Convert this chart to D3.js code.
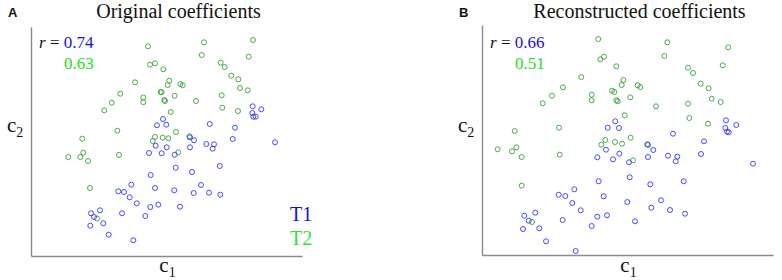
<!DOCTYPE html>
<html><head><meta charset="utf-8">
<script src="https://cdn.jsdelivr.net/npm/d3@7"></script>
<style>
html,body{margin:0;padding:0;background:#fff;}
svg{display:block;}
.serif{font-family:"Liberation Serif","Times New Roman",serif;}
.sans{font-family:"Liberation Sans",Arial,sans-serif;}
</style></head>
<body>
<svg id="chart" width="782" height="280"></svg>
<script>
// ---- data (c1, c2 in arbitrary units) ----
const panelTitles = ["Original coefficients", "Reconstructed coefficients"];
const panelLetters = ["A", "B"];
const rT1 = ["0.74", "0.66"];
const rT2 = ["0.63", "0.51"];
const seriesNames = ["T1", "T2"];

const origT1 = [[100.3,71.3],[87.3,64.7],[93,64],[98.7,58.7],[105.7,52.7],[60,42.7],[69,45.7],[91,42.7],[63,39],[114.3,40],
[72.3,32.7],[59.3,30.3],[77.7,21.3],[102.3,15.7],[132,137],[126,130.7],[135.3,131.3],[178.7,132],[159,118.7],[163,115.7],
[124.7,110.3],[135.7,108.7],[159,108.7],[175.3,112],[183,111.7],[181.7,107.3],[118,103],[130.7,102.7],[143.7,101.3],[144.7,88.3],
[161,84],[188.7,90],[119.7,81],[170,71],[124,68],[143.3,65.7],[162.7,63],[178,63.3],[189.3,61.3],[127.3,51.3],
[119.3,49],[149,49.3],[221.7,149.7],[230.3,146.7],[221.3,143],[222.3,139.3],[224.7,139.3],[204,128.3],[201.7,117],[244,113.7]];

const origT2 = [[104,173.7],[89.3,162.3],[80.7,153.3],[73.3,145.7],[112.3,158.5],[112.3,153.8],[86.3,125.3],[51.3,117.3],[37.3,99],[52.3,103.3],
[49.3,99],[57,95],[88,101],[59,68],[66,37.5],[117,209.7],[173,213.7],[170.7,201],[119,191.3],[124,192.7],
[132.3,186.7],[138.3,175.3],[136.7,171],[149.3,172],[151.7,170.7],[129.7,164],[130.5,163.7],[143.7,160.3],[133.3,156],[134,155],
[165,155],[139.7,144],[145,124],[124,119],[121.7,115],[131.7,118.3],[137.3,117.7],[158.3,119.7],[147.3,103.7],[222,216],
[217.7,199.3],[189.7,193.3],[193.7,189],[200.3,180.3],[207.3,176.7],[209,168],[216.7,165.7],[190.7,160.7],[191.3,148.3],[207,145]];

const reconT1 = [[92.3,65.7],[76.7,60.3],[83.3,59],[90.3,52],[98.7,44.7],[42.3,39.3],[53.3,42.3],[46.7,34.3],[80.7,35],[41,26],
[57.3,26.7],[64,13.7],[93.7,4],[133.3,133.7],[125.7,127.3],[137,127],[165.3,110.7],[171.3,105],[124,105.3],[115.3,97.7],
[131,95.7],[137.3,101.3],[147,92.7],[166,98],[186,99.3],[147.7,77.7],[116.7,73.7],[168.3,70.7],[121.7,58.7],[145.3,53],
[179,54.7],[169.3,47.3],[188,45],[115.3,38.3],[125,39.7],[109.7,29],[153,33.7],[244,134.7],[254.3,130],[243.3,127],
[245,123.3],[246.7,122.7],[191,121.3],[222,113.7],[195.3,98.3],[193.7,93.7],[219,101],[271,91.3],[201.7,73.7],[203,41.3]];

const reconT2 = [[81,167.7],[70,159.3],[60.7,151.7],[99.3,178],[32.7,124],[77,127.3],[15.7,105.7],[34.3,107.7],[30,103.7],[39.7,98],
[77.7,100.3],[39.7,69.3],[50,33],[116.3,216],[118.3,195.7],[122,198.3],[134.3,188.7],[141.3,175],[139.7,170],[130,164.3],
[132.3,163],[155.7,169.7],[158.3,168],[109.7,160.3],[109.7,154.7],[134.3,154.7],[135.7,153.7],[148.3,157.7],[174,148.7],[142.7,139.7],
[185.3,212.7],[182.3,199],[123.3,115],[119.3,110.3],[133,113],[140,111.3],[148.7,117.3],[166,110],[151,94.7],[246.3,207.7],
[240.7,189.7],[206,187.3],[211,182],[218.7,171.3],[226.7,166.7],[229.7,156.3],[238.7,153],[206,151.3],[207.3,137],[226,131.3]];

// ---- layout / style ----
const BLUE = "#2b2bff", GREEN = "#2f9a2f";
const BLUE_TXT = "#1414ee", GREEN_TXT = "#22e022";
const svg = d3.select("#chart");

const panels = [
  {t1: origT1, t2: origT2, xr:[31,302], yr:[256,27], xd:[0,271], yd:[0,229], legend:true},
  {t1: reconT1, t2: reconT2, xr:[482,773], yr:[255,25], xd:[0,291], yd:[0,230], legend:false}
];

panels.forEach((p, i) => {
  const x = d3.scaleLinear().domain(p.xd).range(p.xr);
  const y = d3.scaleLinear().domain(p.yd).range(p.yr);
  const g = svg.append("g");

  // axes (spines only)
  const ax = g.append("g").attr("transform", `translate(0,${p.yr[0]})`)
    .call(d3.axisBottom(x).ticks(0).tickSizeOuter(0));
  const ay = g.append("g").attr("transform", `translate(${p.xr[0]},0)`)
    .call(d3.axisLeft(y).ticks(0).tickSizeOuter(0));
  [ax, ay].forEach(a => a.select(".domain").attr("stroke", "#8a8a8a").attr("stroke-width", 1.4));

  // points
  g.append("g").selectAll("circle").data(p.t2).join("circle")
    .attr("cx", d => x(d[0])).attr("cy", d => y(d[1])).attr("r", 2.5)
    .attr("fill", "none").attr("stroke", GREEN).attr("stroke-width", 1).attr("stroke-opacity", 0.85);
  g.append("g").selectAll("circle").data(p.t1).join("circle")
    .attr("cx", d => x(d[0])).attr("cy", d => y(d[1])).attr("r", 2.5)
    .attr("fill", "none").attr("stroke", BLUE).attr("stroke-width", 1).attr("stroke-opacity", 0.85);

  const x0 = p.xr[0], xm = (p.xr[0] + p.xr[1]) / 2;

  // panel letter
  g.append("text").attr("class", "sans").attr("x", x0 - 23).attr("y", 17)
    .attr("font-weight", "bold").attr("font-size", 13).attr("fill", "#111").text(panelLetters[i]);

  // title
  g.append("text").attr("class", "serif").attr("x", xm + 12).attr("y", 18).attr("text-anchor", "middle")
    .attr("font-size", 20).attr("fill", "#111").text(panelTitles[i]);

  // r values
  const rt = g.append("text").attr("class", "serif").attr("x", x0 + 8).attr("y", 48).attr("font-size", 17);
  rt.append("tspan").attr("font-style", "italic").attr("fill", "#111").text("r");
  rt.append("tspan").attr("fill", "#111").text(" = ");
  rt.append("tspan").attr("fill", BLUE_TXT).text(rT1[i]);
  g.append("text").attr("class", "serif").attr("x", x0 + 33).attr("y", 69).attr("font-size", 17)
    .attr("fill", GREEN_TXT).text(rT2[i]);

  // axis labels
  const yl = g.append("text").attr("class", "serif").attr("x", x0 - 24).attr("y", 132)
    .attr("font-size", 21).attr("fill", "#111");
  yl.append("tspan").text("c");
  yl.append("tspan").attr("font-size", 14).attr("dy", 5).text("2");
  const xl = g.append("text").attr("class", "serif").attr("x", xm + 1).attr("y", 272).attr("text-anchor", "middle")
    .attr("font-size", 21).attr("fill", "#111");
  xl.append("tspan").text("c");
  xl.append("tspan").attr("font-size", 14).attr("dy", 5).text("1");

  // legend
  if (p.legend) {
    g.append("text").attr("class", "serif").attr("x", 290).attr("y", 221).attr("font-size", 20)
      .attr("fill", "#1010dd").text(seriesNames[0]);
    g.append("text").attr("class", "serif").attr("x", 290).attr("y", 245).attr("font-size", 20)
      .attr("fill", "#33dd33").text(seriesNames[1]);
  }
});
</script>
</body></html>
